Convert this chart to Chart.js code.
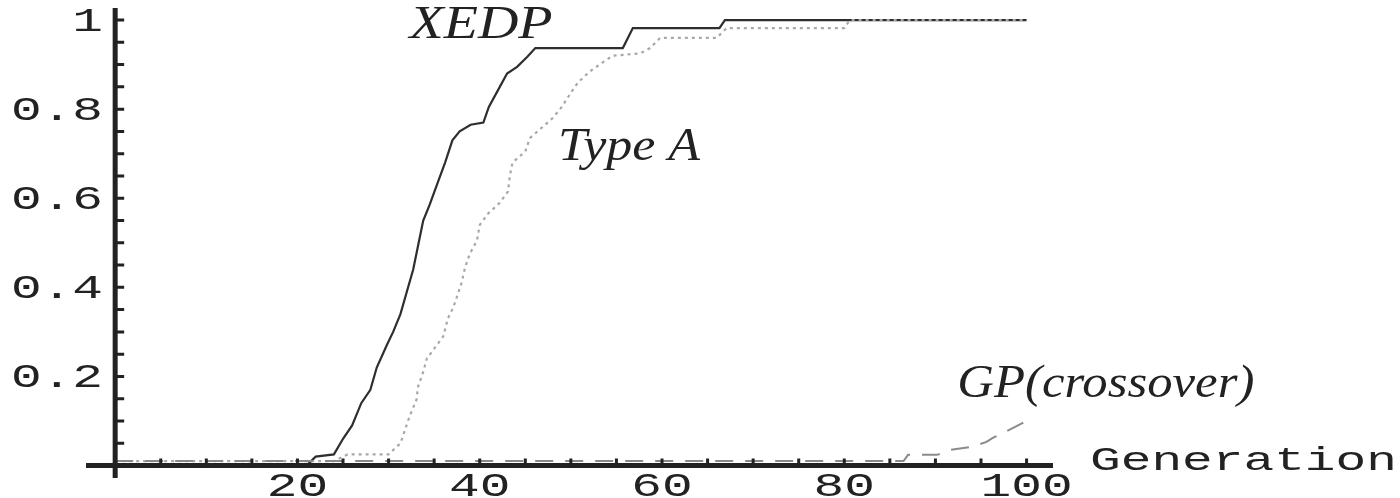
<!DOCTYPE html>
<html>
<head>
<meta charset="utf-8">
<script src="https://cdn.jsdelivr.net/npm/chart.js@4.4.1/dist/chart.umd.min.js"></script>
<style>
html, body { margin: 0; padding: 0; background: #fff; }
#wrap { width: 1400px; height: 498px; }
</style>
</head>
<body>
<div id="wrap"><canvas id="chart"></canvas></div>
<script>
// values
const xedpGen  = [0, 21, 22, 24, 25, 26, 27, 28, 28.7, 29.8, 30.5, 31.3, 32, 32.7, 33.2, 33.8, 34.5, 35.3, 36.2, 37, 37.8, 39, 40.4, 41, 42.2, 43, 44.1, 45.2, 46.1, 55.7, 56.5, 56.8, 66.3, 66.9, 100]
const xedpRate = [0, 0, 0.02, 0.025, 0.06, 0.09, 0.14, 0.17, 0.22, 0.27, 0.30, 0.34, 0.39, 0.44, 0.49, 0.55, 0.585, 0.63, 0.68, 0.73, 0.75, 0.765, 0.77, 0.805, 0.85, 0.88, 0.895, 0.917, 0.937, 0.937, 0.97, 0.982, 0.982, 1, 1]

const typeAGen  = [0, 24, 25.5, 30, 31.3, 32.3, 33.1, 33.2, 33.8, 34.2, 35.1, 36, 36.5, 37.1, 37.6, 38, 38.4, 38.9, 39.7, 40, 40.9, 42.2, 43.1, 43.3, 43.6, 45, 45.5, 46.9, 48, 49, 50.1, 50.8, 52.1, 53.5, 54.6, 57.6, 58.7, 59.8, 66, 67.1, 80, 80.6, 100]
const typeARate = [0.01, 0.01, 0.025, 0.025, 0.05, 0.11, 0.15, 0.175, 0.21, 0.24, 0.265, 0.29, 0.33, 0.355, 0.385, 0.41, 0.445, 0.475, 0.505, 0.54, 0.565, 0.59, 0.615, 0.65, 0.68, 0.705, 0.735, 0.76, 0.78, 0.805, 0.84, 0.86, 0.885, 0.905, 0.92, 0.925, 0.937, 0.96, 0.96, 0.982, 0.982, 1, 1]

const gpGen  = [0, 86.5, 87, 90.2, 91.6, 94, 95.6, 96.3, 98.1, 100]
const gpRate = [0.01, 0.01, 0.024, 0.024, 0.035, 0.042, 0.053, 0.062, 0.08, 0.1]

const xTickValues = [20, 40, 60, 80, 100]
const xTickLabels = ['20', '40', '60', '80', '100']
const yTickValues = [0.2, 0.4, 0.6, 0.8, 1]
const yTickLabels = ['0.2', '0.4', '0.6', '0.8', '1']

function toPoints(xs, ys) {
    return xs.map((x, i) => ({ x: x, y: ys[i] }))
}

// curve names placed in data coordinates, w = width to fit
const curveNames = [
    { text: 'XEDP', x: 32.3, y: 0.96, w: 143 },
    { text: 'Type A', x: 48.6, y: 0.686, w: 142 },
    { text: 'GP(crossover)', x: 92.4, y: 0.154, w: 297 }
]

const monoFont = '33px "Liberation Mono"'
const monoStretch = 1.55
const axisColor = '#222'

function drawStretched(ctx, text, x, y, sx, align) {
    ctx.save()
    ctx.translate(x, y)
    ctx.scale(sx, 1)
    ctx.textAlign = align
    ctx.textBaseline = 'alphabetic'
    ctx.fillText(text, 0, 0)
    ctx.restore()
}

const axesPlugin = {
    id: 'mathAxes',
    afterDraw(chart) {
        const ctx = chart.ctx
        const xs = chart.scales.x
        const ys = chart.scales.y
        const area = chart.chartArea
        const x0 = xs.getPixelForValue(0)
        const y0 = ys.getPixelForValue(0)

        ctx.save()
        ctx.strokeStyle = axisColor
        ctx.fillStyle = axisColor

        // axis lines
        ctx.lineWidth = 5
        ctx.beginPath()
        ctx.moveTo(area.left, y0)
        ctx.lineTo(area.right, y0)
        ctx.moveTo(x0, area.top)
        ctx.lineTo(x0, area.bottom)
        ctx.stroke()

        // small ticks on the inner side
        ctx.lineWidth = 3
        ctx.beginPath()
        for (let g = 5; g <= 100; g += 5) {
            const px = xs.getPixelForValue(g)
            ctx.moveTo(px, y0)
            ctx.lineTo(px, y0 - 7)
        }
        for (let k = 1; k <= 20; k++) {
            const py = ys.getPixelForValue(k * 0.05)
            ctx.moveTo(x0, py)
            ctx.lineTo(x0 + 9, py)
        }
        ctx.stroke()

        // tick labels
        ctx.font = monoFont
        xTickValues.forEach((v, i) => {
            drawStretched(ctx, xTickLabels[i], xs.getPixelForValue(v), 496, monoStretch, 'center')
        })
        yTickValues.forEach((v, i) => {
            drawStretched(ctx, yTickLabels[i], 103, ys.getPixelForValue(v) + 11, monoStretch, 'right')
        })
        drawStretched(ctx, 'Generation', 1090, 470, monoStretch, 'left')

        // curve names
        ctx.font = 'italic 47px "Liberation Serif"'
        curveNames.forEach(n => {
            const sx = n.w / ctx.measureText(n.text).width
            drawStretched(ctx, n.text, xs.getPixelForValue(n.x), ys.getPixelForValue(n.y), sx, 'left')
        })
        ctx.restore()
    }
}

new Chart(document.getElementById('chart').getContext('2d'), {
    type: 'scatter',
    data: {
        datasets: [
            {
                label: 'GP(crossover)',
                data: toPoints(gpGen, gpRate),
                showLine: true,
                borderColor: '#8a8a8a',
                borderWidth: 2,
                borderDash: [18, 12],
                pointRadius: 0,
                tension: 0
            },
            {
                label: 'Type A',
                data: toPoints(typeAGen, typeARate),
                showLine: true,
                borderColor: '#a8a8a8',
                borderWidth: 2.2,
                borderDash: [3, 4],
                pointRadius: 0,
                tension: 0
            },
            {
                label: 'XEDP',
                data: toPoints(xedpGen, xedpRate),
                showLine: true,
                borderColor: '#2e2e2e',
                borderWidth: 2.2,
                pointRadius: 0,
                tension: 0
            }
        ]
    },
    options: {
        responsive: true,
        maintainAspectRatio: false,
        animation: false,
        layout: {
            padding: { left: 86, right: 347, top: 8, bottom: 20 }
        },
        scales: {
            x: { type: 'linear', min: -3.2, max: 102.9, display: false },
            y: { type: 'linear', min: -0.028, max: 1.027, display: false }
        },
        plugins: {
            legend: { display: false },
            tooltip: { enabled: false }
        }
    },
    plugins: [axesPlugin]
})
</script>
</body>
</html>
